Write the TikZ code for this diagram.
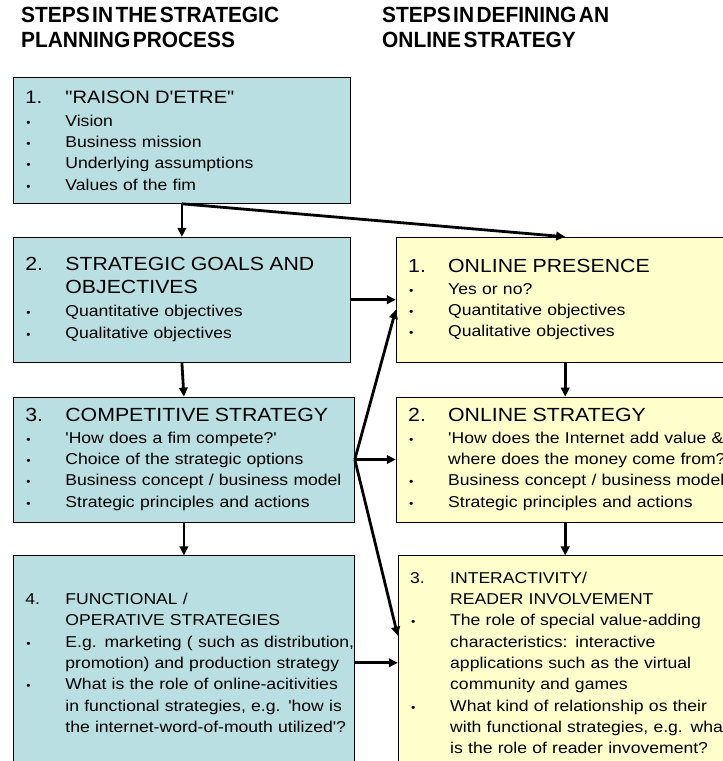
\documentclass[tikz,border=0pt]{standalone}
\usepackage{fontspec}
\setmainfont{Liberation Sans}[FakeStretch=1.12, Ligatures=TeXOff]
\newfontfamily\headfont{Liberation Sans}[FakeStretch=0.95]
\usetikzlibrary{arrows.meta, positioning}

\definecolor{planfill}{RGB}{185,223,226}
\definecolor{onlinefill}{RGB}{255,255,204}

% font sizes
\newcommand\bodyfont{\fontsize{15.7}{21.3}\selectfont}
\newcommand\titlefont{\fontsize{19}{23}\selectfont}
\newcommand\smalltitle{\fontsize{18}{23}\selectfont}

% one line of a box: number, bullet or plain continuation
\newcommand\numline[2]{\makebox[52pt][l]{\hspace{12pt}#1}#2}
\newcommand\bulline[1]{\makebox[52pt][l]{\hspace{13pt}{\fontsize{11}{11}\selectfont\textbullet}}#1}
\newcommand\contline[1]{\makebox[52pt]{}#1}

\begin{document}
\begin{tikzpicture}[
  planbox/.style={draw, fill=planfill, line width=0.8pt, anchor=north west,
                  align=left, inner xsep=0pt, inner ysep=0pt, font=\bodyfont},
  onlinebox/.style={planbox, fill=onlinefill},
  heading/.style={anchor=north west, inner sep=0pt, align=left,
                  font={\headfont\bfseries\fontsize{22}{25}\selectfont\spaceskip=2.5pt}},
  flow/.style={->, line width=2.8pt},
  >={Triangle[length=9pt, width=8.5pt]}
]
\useasboundingbox (0,0) rectangle (723pt,-761pt);
\clip (0,0) rectangle (723pt,-761pt);

\node[heading] (planhead) at (21pt,-7pt) {STEPS IN THE STRATEGIC\\PLANNING PROCESS};
\node[heading] (onlinehead) at (382pt,-7pt) {STEPS IN DEFINING AN\\ONLINE STRATEGY};

% left column
\node[planbox, text width=337pt, minimum height=126pt] (raison) at (13pt,-77pt) {%
  {\smalltitle\numline{1.}{"RAISON D'ETRE"}}\\[1.7pt]
  \bulline{Vision}\\
  \bulline{Business mission}\\
  \bulline{Underlying assumptions}\\
  \bulline{Values of the fim}};
\node[planbox, text width=337pt, minimum height=125pt,
      below=33pt of raison.south west, anchor=north west] (goals) {%
  {\titlefont\numline{2.}{STRATEGIC GOALS AND}}\\[1.7pt]
  {\titlefont\contline{OBJECTIVES}}\\[2.2pt]
  \bulline{Quantitative objectives}\\[0.7pt]
  \bulline{Qualitative objectives}};
\node[planbox, text width=341pt, minimum height=125pt,
      below=34pt of goals.south west, anchor=north west] (compete) {%
  {\titlefont\numline{3.}{COMPETITIVE STRATEGY}}\\
  \bulline{'How does a fim compete?'}\\
  \bulline{Choice of the strategic options}\\
  \bulline{Business concept / business model}\\
  \bulline{Strategic principles and actions}};
\node[planbox, text width=341pt, minimum height=214pt,
      below=33pt of compete.south west, anchor=north west] (functional) {%
  \numline{4.}{FUNCTIONAL /}\\
  \contline{OPERATIVE STRATEGIES}\\
  \bulline{E.g. marketing ( such as distribution,}\\
  \contline{promotion) and production strategy}\\
  \bulline{What is the role of online-acitivities}\\
  \contline{in functional strategies, e.g. 'how is}\\
  \contline{the internet-word-of-mouth utilized'?}};

% right column
\node[onlinebox, text width=360pt, minimum height=125pt,
      right=45pt of goals.north east, anchor=north west] (presence) {%
  {\titlefont\numline{1.}{ONLINE PRESENCE}}\\[0.2pt]
  \bulline{Yes or no?}\\
  \bulline{Quantitative objectives}\\
  \bulline{Qualitative objectives}};
\node[onlinebox, text width=360pt, minimum height=125pt,
      below=34pt of presence.south west, anchor=north west] (online) {%
  {\titlefont\numline{2.}{ONLINE STRATEGY}}\\
  \bulline{'How does the Internet add value \&}\\
  \contline{where does the money come from?}\\
  \bulline{Business concept / business model}\\
  \bulline{Strategic principles and actions}};
\node[onlinebox, text width=360pt, minimum height=214pt,
      below=33pt of online.south west, anchor=north west, xshift=2pt] (reader) {%
  \numline{3.}{INTERACTIVITY/}\\
  \contline{READER INVOLVEMENT}\\
  \bulline{The role of special value-adding}\\
  \contline{characteristics: interactive}\\
  \contline{applications such as the virtual}\\
  \contline{community and games}\\
  \bulline{What kind of relationship os their}\\
  \contline{with functional strategies, e.g. what}\\
  \contline{is the role of reader invovement?}};

% connectors
\draw[flow] (raison.south) -- (goals.north);
\draw[flow] (raison.south) -- ([xshift=-11pt]presence.north);
\draw[flow] (goals.east) -- (presence.west);
\draw[flow] (goals.south) -- (compete.north);
\draw[flow] (compete.east) -- ([yshift=-10pt]presence.west);
\draw[flow] (compete.east) -- (online.west);
\draw[flow] (compete.east) -- ([yshift=27pt]reader.west);
\draw[flow] (compete.south) -- (functional.north);
\draw[flow] (functional.east) -- (reader.west);
\draw[flow] ([xshift=-11pt]presence.south) -- ([xshift=-11pt]online.north);
\draw[flow] ([xshift=-11pt]online.south) -- ([xshift=-13pt]reader.north);
\end{tikzpicture}
\end{document}
